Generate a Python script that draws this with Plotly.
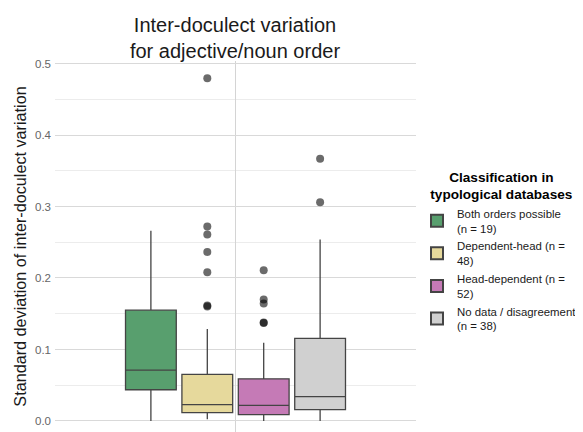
import plotly.graph_objects as go

categories = ["Both orders possible<br>(n = 19)",
              "Dependent-head (n =<br>48)",
              "Head-dependent (n =<br>52)",
              "No data / disagreement<br>(n = 38)"]
group_key = "adjective/noun"
q1 = [0.0437, 0.0116, 0.0088, 0.0158]
median = [0.0712, 0.0228, 0.0219, 0.0340]
q3 = [0.1550, 0.0652, 0.0590, 0.1155]
lower = [0.0000, 0.0023, 0.0000, 0.0000]
upper = [0.2660, 0.1285, 0.1094, 0.2538]
outliers = [
    [],
    [0.4795, 0.2720, 0.2610, 0.2365, 0.2080, 0.1600, 0.1615],
    [0.2109, 0.1700, 0.1644, 0.1370, 0.1376],
    [0.3669, 0.3059],
]
fills = ["#589f6e", "#e6d99c", "#c57ab6", "#d0d0d0"]

# page body adds an 8px margin, so the figure is 8px smaller than the window
W, H = 575, 424

fig = go.Figure()
for i, name in enumerate(categories):
    fig.add_trace(go.Box(
        name=name, x=[group_key], q1=[q1[i]], median=[median[i]], q3=[q3[i]],
        lowerfence=[lower[i]], upperfence=[upper[i]], boxpoints=False,
        offsetgroup=str(i), fillcolor=fills[i],
        line=dict(color="#444444", width=1.3), whiskerwidth=0,
    ))
for i, name in enumerate(categories):
    if outliers[i]:
        fig.add_trace(go.Scatter(
            x=[group_key] * len(outliers[i]), y=outliers[i], mode="markers",
            offsetgroup=str(i), showlegend=False, hoverinfo="y",
            marker=dict(color="rgba(0,0,0,0.58)", size=8, line=dict(width=0)),
        ))

nb = "&nbsp;"
fig.update_layout(
    width=W, height=H,
    margin=dict(l=47, r=167, t=53, b=0, autoexpand=False),
    paper_bgcolor="white", plot_bgcolor="white",
    font=dict(family="Liberation Sans, Arial, sans-serif", color="#1a1a1a"),
    title=dict(text="Inter-doculect variation<br>for adjective/noun order",
               x=227 / W, xanchor="center", xref="container",
               yref="container", y=1 - 23.5 / H, yanchor="top",
               font=dict(size=20, color="#1a1a1a")),
    boxmode="group", boxgap=0.25, boxgroupgap=0.1,
    scattermode="group", scattergap=0.25,
    legend=dict(
        title=dict(text="<b>" + nb * 8 + "Classification in<br>" + nb * 3
                   + "typological databases</b>",
                   side="top", font=dict(size=13.6, color="#000000")),
        font=dict(size=11.4, color="#1a1a1a"),
        xref="container", yref="container",
        x=409 / W, xanchor="left", y=1 - 244 / H, yanchor="middle",
        bgcolor="rgba(0,0,0,0)", itemsizing="constant",
    ),
    showlegend=True,
)
fig.update_xaxes(
    type="category", range=[-0.6, 0.6], showticklabels=False, ticks="",
    showgrid=True, gridcolor="#d4d4d4", gridwidth=1.3, zeroline=False, showline=False,
)
fig.update_yaxes(
    range=[-0.0154, 0.5035], tickvals=[0, 0.1, 0.2, 0.3, 0.4, 0.5], tickformat=".1f",
    tickfont=dict(size=11.5, color="#666666"), ticks="", automargin=False,
    ticklabelstandoff=3,
    showgrid=True, gridcolor="#d9d9d9", gridwidth=1.1, zeroline=False, showline=False,
    minor=dict(tickvals=[0.05, 0.15, 0.25, 0.35, 0.45], showgrid=True,
               gridcolor="#ececec", gridwidth=0.8),
    title=dict(text="Standard deviation of inter-doculect variation",
               font=dict(size=16.2, color="#1a1a1a"), standoff=4),
)
fig.write_html("out.html")
